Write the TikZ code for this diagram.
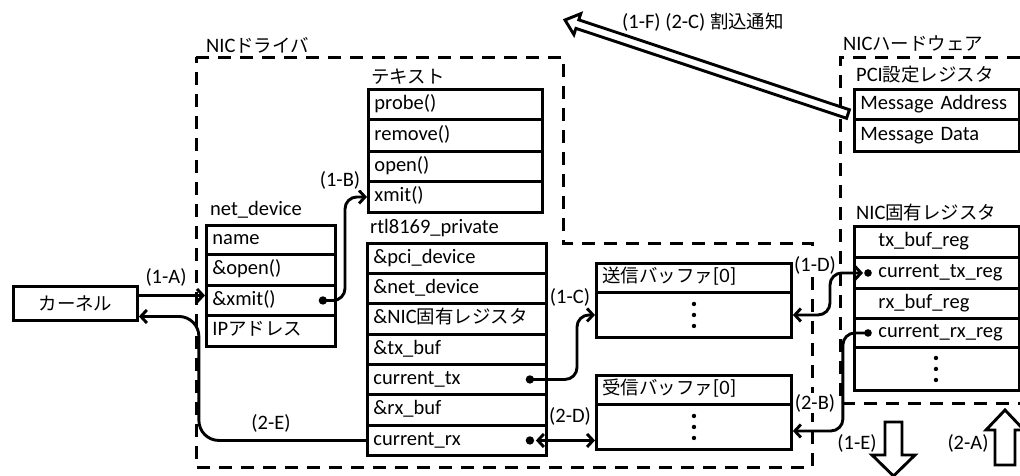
\documentclass[tikz,border=0pt]{standalone}
\usepackage{fontspec}
\setmainfont{Carlito}
\newfontfamily\jpf[Scale=0.9]{Noto Sans CJK JP}
\usetikzlibrary{arrows.meta}
\newcommand{\jp}[1]{{\jpf #1}}
\newcommand{\fsz}{\fontsize{20.5}{24}\selectfont}
\tikzset{
  rowcell/.style={draw, line width=2.9pt, anchor=north west, inner xsep=6pt, inner ysep=0pt,
    text width=#1, align=left, font=\fsz, execute at begin node=\strut},
  lbl/.style={anchor=west, inner sep=0pt, font=\fsz},
  clbl/.style={inner sep=1pt, font=\fsz, fill=white},
  conn/.style={line width=2.9pt, rounded corners=12pt},
  btip/.tip={Straight Barb[length=6pt,width=13pt]},
  region/.style={line width=3pt, dash pattern=on 13pt off 9pt},
  bigarrow/.style={draw, line width=2.9pt, fill=white, line join=miter},
}
\begin{document}
\begin{tikzpicture}[x=1pt,y=-1pt]
\useasboundingbox (0,0) rectangle (1020,475);

% regions
\draw[region] (196,57) -- (563,57) -- (563,243) -- (812,243) -- (812,467) -- (196,467) -- cycle;
\draw[region] (1020,57) -- (840,57) -- (840,403) -- (1020,403);

% labels
\node[lbl] (ldrv) at (206,45) {NIC\jp{ドライバ}};
\node[lbl] (ltext) at (371,77) {\jp{テキスト}};
\node[lbl] (lnet) at (210,210) {net\_device};
\node[lbl] (lrtl) at (370,228) {rtl8169\_private};
\node[lbl] (lhw) at (843,44) {NIC\jp{ハードウェア}};
\node[lbl] (lpci) at (856,75) {PCI\jp{設定レジスタ}};
\node[lbl] (lreg) at (856,213) {NIC\jp{固有レジスタ}};
\node[lbl] (lint) at (622,22) {(1-F) (2-C) \jp{割込通知}};

% text section
\node[rowcell=162pt, minimum height=30pt] (probe) at (367,88) {probe()};
\node[rowcell=162pt, minimum height=32pt] (remove) at (367,118) {remove()};
\node[rowcell=162pt, minimum height=30pt] (open) at (367,150) {open()};
\node[rowcell=162pt, minimum height=31pt] (xmit) at (367,180) {xmit()};

% net_device
\node[rowcell=117pt, minimum height=29pt] (name) at (205,224) {name};
\node[rowcell=117pt, minimum height=31pt] (nopen) at (205,253) {\&open()};
\node[rowcell=117pt, minimum height=30pt] (nxmit) at (205,284) {\&xmit()};
\node[rowcell=117pt, minimum height=31pt] (nip) at (205,314) {IP\jp{アドレス}};

% kernel
\node[draw, line width=2.9pt, anchor=north west, minimum width=124pt, minimum height=34pt, inner sep=0pt, font=\fsz] (kernel) at (12,285) {\jp{カーネル}};

% rtl8169_private
\node[rowcell=167pt, minimum height=30pt] (ppci) at (366,242) {\&pci\_device};
\node[rowcell=167pt, minimum height=30pt] (pnet) at (366,272) {\&net\_device};
\node[rowcell=167pt, minimum height=31pt] (preg) at (366,302) {\&NIC\jp{固有レジスタ}};
\node[rowcell=167pt, minimum height=30pt] (ptxbuf) at (366,333) {\&tx\_buf};
\node[rowcell=167pt, minimum height=30pt] (ptx) at (366,363) {current\_tx};
\node[rowcell=167pt, minimum height=31pt] (prxbuf) at (366,393) {\&rx\_buf};
\node[rowcell=167pt, minimum height=30pt] (prx) at (366,424) {current\_rx};

% buffers
\node[rowcell=183pt, minimum height=29pt] (sendhd) at (595,262) {\jp{送信バッファ}[0]};
\node[rowcell=183pt, minimum height=45pt] (sendbody) at (595,291) {};
\node[rowcell=183pt, minimum height=29pt] (recvhd) at (595,374) {\jp{受信バッファ}[0]};
\node[rowcell=183pt, minimum height=45pt] (recvbody) at (595,403) {};

% PCI config registers
\node[rowcell=153pt, minimum height=30pt] (maddr) at (853,88) {Message Address};
\node[rowcell=153pt, minimum height=32pt] (mdata) at (853,118) {Message Data};

% NIC specific registers
\node[rowcell=153pt, minimum height=31pt] (txreg) at (853,225) {\hspace*{18pt}tx\_buf\_reg};
\node[rowcell=153pt, minimum height=31pt] (curtx) at (853,256) {\hspace*{18pt}current\_tx\_reg};
\node[rowcell=153pt, minimum height=30pt] (rxreg) at (853,287) {\hspace*{18pt}rx\_buf\_reg};
\node[rowcell=153pt, minimum height=29pt] (currx) at (853,317) {\hspace*{18pt}current\_rx\_reg};
\node[rowcell=153pt, minimum height=43pt] (regmore) at (853,346) {};

% vertical ellipses
\foreach \yy in {-11,0,11} {
  \fill ([yshift=-\yy pt]sendbody.center) circle (2.2pt);
  \fill ([yshift=-\yy pt]recvbody.center) circle (2.2pt);
  \fill ([yshift=-\yy pt, xshift=-1pt]regmore.center) circle (2.2pt);
}

% dot coordinates
\coordinate (dxm) at ([xshift=-14pt]nxmit.east);
\coordinate (dtx) at ([xshift=-18pt]ptx.east);
\coordinate (drx) at ([xshift=-18pt]prx.east);
\coordinate (dctx) at ([xshift=15pt]curtx.west);
\coordinate (dcrx) at ([xshift=15pt]currx.west);

% connectors
\draw[conn, -btip] ([yshift=8pt]kernel.east) -- ([yshift=8pt]kernel.east -| nxmit.west);
\draw[conn, -btip] (dxm) -| ([xshift=-22pt]xmit.west) -- (xmit.west);
\draw[conn, -btip] (dtx) -| ([xshift=-18pt]sendbody.west) -- (sendbody.west);
\draw[conn, btip-btip] ([xshift=6pt]drx) -- (drx -| recvbody.west);
\draw[conn, rounded corners=20pt, -btip] (prx.west) -| ([xshift=60pt, yshift=-13pt]kernel.east) -- ([yshift=-13pt]kernel.east);

% connector labels (white background over the dashed lines)
\node[clbl] (l1a) at (166,277) {(1-A)};
\node[clbl] (l1b) at (340,180) {(1-B)};
\node[clbl] (l1c) at (570,297) {(1-C)};
\node[clbl] (l1d) at (815,265) {(1-D)};
\node[clbl] (l2b) at (815,403) {(2-B)};
\node[clbl] (l2d) at (570,416) {(2-D)};
\node[clbl] (l2e) at (271,423) {(2-E)};
\node[clbl] (l1e) at (857,443) {(1-E)};
\node[clbl] (l2a) at (968,443) {(2-A)};

\draw[conn, btip-btip] (sendbody.east) -| ([xshift=-38pt]dctx) -- ([xshift=-5pt]dctx);
\draw[conn, -btip] (dcrx) -| ([xshift=50pt,yshift=-4pt]recvbody.east) -- ([yshift=-4pt]recvbody.east);

\foreach \d in {dxm,dtx,drx} { \fill (\d) circle (4.2pt); }
\foreach \d in {dctx,dcrx} { \fill (\d) circle (3.8pt); }

% big hollow arrows
\draw[bigarrow] (849.42,109.73) -- (578.76,19.83) -- (580.81,13.66) -- (565,20) -- (573.87,34.54) -- (575.92,28.37) -- (846.58,118.27) -- cycle;
\draw[bigarrow] (885,422) -- (902,422) -- (902,455) -- (915,455) -- (893.5,476) -- (872,455) -- (885,455) -- cycle;
\draw[bigarrow] (995,465) -- (995,430) -- (986,430) -- (1005,410) -- (1024,430) -- (1015,430) -- (1015,465) -- cycle;
\end{tikzpicture}
\end{document}
